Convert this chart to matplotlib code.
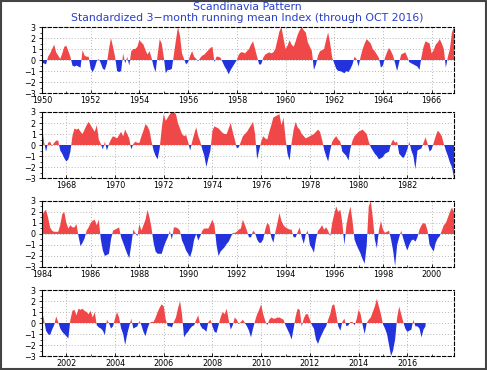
import numpy as np
import matplotlib
matplotlib.use('Agg')
import matplotlib.pyplot as plt
from matplotlib.patches import Rectangle

# monthly values, one row per year (Jan..Dec)
start_years = [1950, 1967, 1984, 2001]

index_1950 = [
    [-0.3, -0.3, -0.4, 0.3, 0.6, 1.0, 1.4, 0.7, 0.4, 0.1, 0.6, 1.2],
    [1.3, 0.8, 0.3, -0.5, -0.6, -0.5, -0.6, -0.7, 0.9, 0.4, 0.3, 0.3],
    [-0.8, -1.1, -0.7, -0.1, 0.1, -0.3, -0.8, -0.9, -0.3, 1.0, 2.0, 1.2],
    [0.3, -1.0, -1.1, -1.0, 0.6, -0.3, 0.3, -0.5, 0.8, 1.0, 1.0, 1.2],
    [1.8, 1.6, 1.4, 0.9, 0.5, 0.8, 0.2, -0.6, -1.1, 0.5, 1.9, 1.5],
    [0.3, -1.2, -0.9, -0.9, -0.8, 0.5, 1.8, 3.0, 2.2, 0.6, 0.1, -0.4],
    [-0.2, 0.4, 0.8, 0.3, 0.1, -0.1, 0.2, 0.4, 0.5, 0.7, 0.9, 1.1],
    [1.2, -0.2, 0.3, 0.3, 0.2, -0.2, -0.6, -0.9, -1.3, -0.9, -0.6, -0.3],
    [0.0, 0.5, 0.7, 0.7, 0.6, 0.8, 1.0, 1.4, 1.7, 1.0, 0.3, -0.4],
    [-0.4, 0.2, 0.5, 0.6, 0.7, 0.6, 0.7, 1.0, 1.8, 2.6, 3.0, 2.0],
    [1.0, 1.3, 1.8, 1.4, 1.2, 1.7, 2.3, 2.7, 3.0, 2.7, 2.5, 1.6],
    [1.2, 0.8, -0.9, -0.4, 0.4, 0.8, 0.9, 1.0, 1.8, 2.5, 1.5, 0.2],
    [-0.3, -0.8, -1.0, -1.0, -1.1, -1.2, -1.0, -1.1, -0.8, -0.4, 0.3, 0.1],
    [-0.6, 0.3, 1.0, 1.5, 1.9, 1.7, 1.5, 1.0, 0.8, 0.5, 0.2, -0.7],
    [-0.5, 0.2, 0.7, 1.1, 0.8, 0.4, -0.3, -1.0, -0.2, 0.5, 0.6, 0.7],
    [0.3, -0.2, -0.3, -0.4, -0.5, -0.6, -0.9, 0.3, 1.2, 1.7, 1.6, 1.5],
    [0.6, 0.9, 1.4, 1.6, 1.9, 1.5, 1.0, -0.7, 0.3, 1.0, 2.5, 3.0],
]

index_1967 = [
    [1.7, 0.3, -0.6, 0.2, 0.3, -0.1, 0.2, 0.4, 0.4, -0.5, -0.8, -1.2],
    [-1.5, -1.3, -0.6, 0.8, 1.5, 1.4, 1.5, 1.2, 1.0, 1.4, 1.8, 2.1],
    [1.8, 1.5, 1.2, 1.8, 0.5, 0.1, -0.4, 0.3, -0.5, 0.1, 0.5, 0.8],
    [0.7, 0.6, 0.9, 1.2, 0.8, 1.4, 1.0, 0.6, -0.4, 0.1, 0.3, 0.2],
    [0.2, 0.8, 1.3, 1.9, 1.7, 1.3, 0.3, -0.5, -1.0, -1.3, -0.3, 1.5],
    [2.8, 2.2, 2.5, 2.8, 3.0, 3.0, 2.8, 2.0, 1.5, 1.0, 0.8, 0.9],
    [0.3, -0.5, 0.3, 1.0, 1.6, 0.8, 0.3, -0.4, -1.0, -2.0, -1.2, -0.5],
    [1.3, 1.7, 1.6, 1.5, 1.3, 1.1, 1.0, 1.0, 1.5, 2.0, 1.2, 0.5],
    [-0.3, -0.2, 0.3, 0.8, 1.0, 1.2, 1.5, 1.8, 2.1, 1.0, -1.3, -0.5],
    [0.3, 0.8, 0.6, 0.5, 1.2, 1.8, 2.5, 2.6, 2.7, 2.8, 1.8, 2.5],
    [0.6, -0.8, -1.4, 0.2, 1.4, 2.1, 1.6, 1.4, 1.0, 0.8, 0.6, 0.7],
    [0.8, 0.9, 1.0, 1.2, 1.4, 1.2, 0.5, -0.4, -1.0, -1.5, -0.5, 0.3],
    [0.6, 0.8, 0.5, 0.3, -0.6, -0.8, -1.0, -1.4, -0.3, 0.4, 0.8, 1.0],
    [1.2, 1.3, 1.4, 1.2, 1.0, 0.3, -0.2, -0.5, -0.8, -1.0, -1.3, -1.2],
    [-1.1, -0.8, -0.7, -0.6, 0.1, 0.5, 0.2, 0.3, -0.8, -1.0, -1.2, -0.9],
    [-0.4, 0.3, -0.5, -1.0, -2.2, -0.5, -0.4, -0.3, 0.2, 0.7, 0.1, -0.6],
    [-0.4, 0.2, 0.8, 1.3, 1.1, 0.8, 0.1, -0.5, -1.0, -1.6, -2.0, -3.0],
]

index_1984 = [
    [1.6, 2.0, 2.2, 1.5, 0.6, 0.3, 0.2, 0.2, 0.2, 0.8, 1.8, 2.0],
    [1.0, 0.5, 0.8, 0.6, 0.6, 0.9, -0.2, -1.1, -0.8, -0.4, 0.3, 0.6],
    [1.0, 1.2, 1.3, 0.8, 1.3, -0.5, -1.5, -2.0, -1.9, -1.8, -0.5, 0.3],
    [0.4, 0.5, 0.6, -0.3, -0.8, -1.3, -1.8, -2.2, -1.0, 0.4, 0.1, -0.2],
    [0.9, 0.3, 0.8, 1.3, 2.2, 1.5, 0.5, -0.8, -1.6, -1.8, -1.8, -1.8],
    [-1.2, -0.7, -0.3, 0.3, -0.5, 0.6, 0.6, 0.5, 0.3, -0.6, -1.0, -1.5],
    [-1.8, -2.1, -1.5, -0.5, 0.0, -0.6, -0.2, 0.3, 0.5, 0.5, 0.5, 0.9],
    [1.3, 0.8, -1.0, -2.0, -1.6, -1.4, -1.2, -0.9, -0.7, -0.3, 0.1, 0.1],
    [0.2, 0.4, 0.5, 1.3, 0.8, 0.3, -0.3, -0.3, 0.3, 0.1, -0.5, -0.8],
    [-0.8, -0.5, 0.4, 1.0, 0.8, -0.3, -0.8, 0.2, 1.0, 1.9, 1.2, 0.8],
    [0.6, 0.5, 0.4, 0.4, -0.3, -0.3, 0.2, 0.6, -0.3, -0.9, 0.0, 0.3],
    [-1.0, -1.3, -1.7, -0.5, 0.3, 0.5, 0.8, 0.4, 0.6, 0.3, -0.2, 1.0],
    [1.8, 2.5, 2.0, 2.2, 1.0, -1.0, 0.8, 1.8, 2.5, 1.2, -0.5, -1.0],
    [-1.4, -1.8, -2.3, -2.7, -1.0, 2.5, 3.0, 1.5, -0.5, -1.3, 0.3, 1.2],
    [0.4, 0.1, 0.2, 0.3, -0.5, -1.5, -2.9, -1.0, -0.3, 0.3, -0.4, -1.0],
    [-1.5, -1.0, -0.6, -0.5, -0.7, -0.3, 0.4, 0.8, 1.0, 0.9, 0.3, -1.0],
    [-1.3, -1.6, -0.8, -0.4, -0.2, 0.3, 0.8, 1.0, 1.5, 2.0, 2.4, 2.0],
]

index_2001 = [
    [1.1, 0.3, -0.7, -1.0, -1.1, -0.6, -0.2, 0.6, 0.1, -0.5, -0.8, -1.0],
    [-1.2, -1.4, 0.3, 1.1, 1.2, 0.7, 1.3, 1.2, 1.3, 1.1, 1.0, 0.8],
    [1.1, 0.5, 1.0, -0.2, -0.4, -0.5, -0.7, -1.1, 0.3, 0.0, -0.5, -0.3],
    [0.4, 1.0, 0.5, -0.5, -1.0, -2.0, -1.0, -0.3, 0.4, -0.5, -0.4, -0.3],
    [0.2, -0.2, -0.8, -1.2, -0.5, 0.0, 0.1, 0.1, 0.5, 1.0, 1.4, 1.7],
    [1.5, 0.3, -0.3, -0.3, -0.4, 0.1, 0.5, 1.3, 2.0, 0.8, -1.3, -1.0],
    [-0.8, -0.5, -0.3, -0.2, 0.3, 0.7, -0.2, -0.5, -0.6, -0.8, 0.1, 0.3],
    [-0.3, -0.8, -0.9, -0.2, 0.5, 1.0, 0.8, 1.3, 0.3, -0.6, -0.2, 0.5],
    [0.3, -0.1, 0.1, 0.3, 0.0, -0.3, -0.7, -1.3, -0.5, 0.2, 0.8, 1.2],
    [1.7, 0.8, 0.2, -0.2, 0.3, 0.5, 0.4, 0.4, 0.5, 0.5, 0.4, 0.3],
    [-0.2, -0.6, -1.0, -1.5, -0.5, 0.6, 1.3, 1.2, -0.3, 0.4, 0.8, 0.8],
    [0.3, -0.2, -0.5, -1.5, -1.9, -1.4, -1.0, -0.6, -0.3, 0.3, 0.8, 1.6],
    [1.7, 0.8, -0.3, -0.7, 0.1, 0.4, -0.3, -0.2, 0.1, 0.1, -0.2, 0.3],
    [1.2, 0.8, -0.2, -1.0, 0.0, 0.3, 0.5, 1.0, 1.5, 2.2, 1.5, 0.8],
    [-0.1, -0.5, -1.0, -2.0, -3.0, -2.5, -1.5, 0.5, 1.5, 0.8, 0.1, -0.5],
    [-0.8, -0.7, -0.6, 0.3, -0.3, -0.3, -0.5, -1.3, -0.6, -0.3],  # through Oct 2016
]

panels = [index_1950, index_1967, index_1984, index_2001]

red = '#f04848'
blue = '#2233dd'
title_blue = '#2a3fc8'

fig = plt.figure(figsize=(4.87, 3.70), dpi=100)

bottoms = [0.7486, 0.5189, 0.2784, 0.0378] # panel positions (figure fraction)
for start, rows, b in zip(start_years, panels, bottoms):
    ax = fig.add_axes([0.0862, b, 0.846, 0.1784])
    y = np.array([v for row in rows for v in row])
    x = start + np.arange(len(y)) / 12.0
    ax.fill_between(x, y, 0, where=y >= 0, interpolate=True, color=red, lw=0, zorder=2)
    ax.fill_between(x, y, 0, where=y <= 0, interpolate=True, color=blue, lw=0, zorder=2)

    ax.set_xlim(start, start + 17 - 1 / 12.0)
    ax.set_ylim(-3, 3)
    ax.set_yticks(range(-3, 4))
    first = start if start % 2 == 0 else start + 1
    ax.set_xticks(range(first, start + 17, 2))
    ax.set_xticks(range(start, start + 17), minor=True)
    ax.set_yticks(np.arange(-3, 3.01, 0.5), minor=True)
    ax.set_yticklabels([str(v) if v >= 0 else '\u2212' + str(-v) for v in range(-3, 4)])

    ax.grid(True, which='major', color='#b8b8b8', ls=(0, (1, 2)), lw=0.7, zorder=1)
    ax.set_axisbelow(True)
    ax.tick_params(axis='both', which='major', labelsize=5.8, length=2.5, width=0.6, pad=2, direction='out')
    ax.tick_params(axis='both', which='minor', length=1.5, width=0.5, direction='out')
    ax.tick_params(axis='x', which='both', direction='in', top=False)

    for side in ['top', 'bottom', 'right']:
        ax.spines[side].set_linestyle((0, (3, 2)))
        ax.spines[side].set_linewidth(0.8)
    ax.spines['left'].set_linewidth(0.8)

fig.text(0.507, 0.981, 'Scandinavia Pattern', ha='center', va='center', color=title_blue, fontsize=7.8)
fig.text(0.507, 0.952, 'Standardized 3\u2212month running mean Index (through OCT 2016)',
         ha='center', va='center', color=title_blue, fontsize=7.8)

# frame round the whole picture
fig.patches.append(Rectangle((0.002, 0.003), 0.995, 0.994, transform=fig.transFigure,
                             fill=False, edgecolor='#444444', lw=1.5))

plt.savefig('out.png', dpi=100)
